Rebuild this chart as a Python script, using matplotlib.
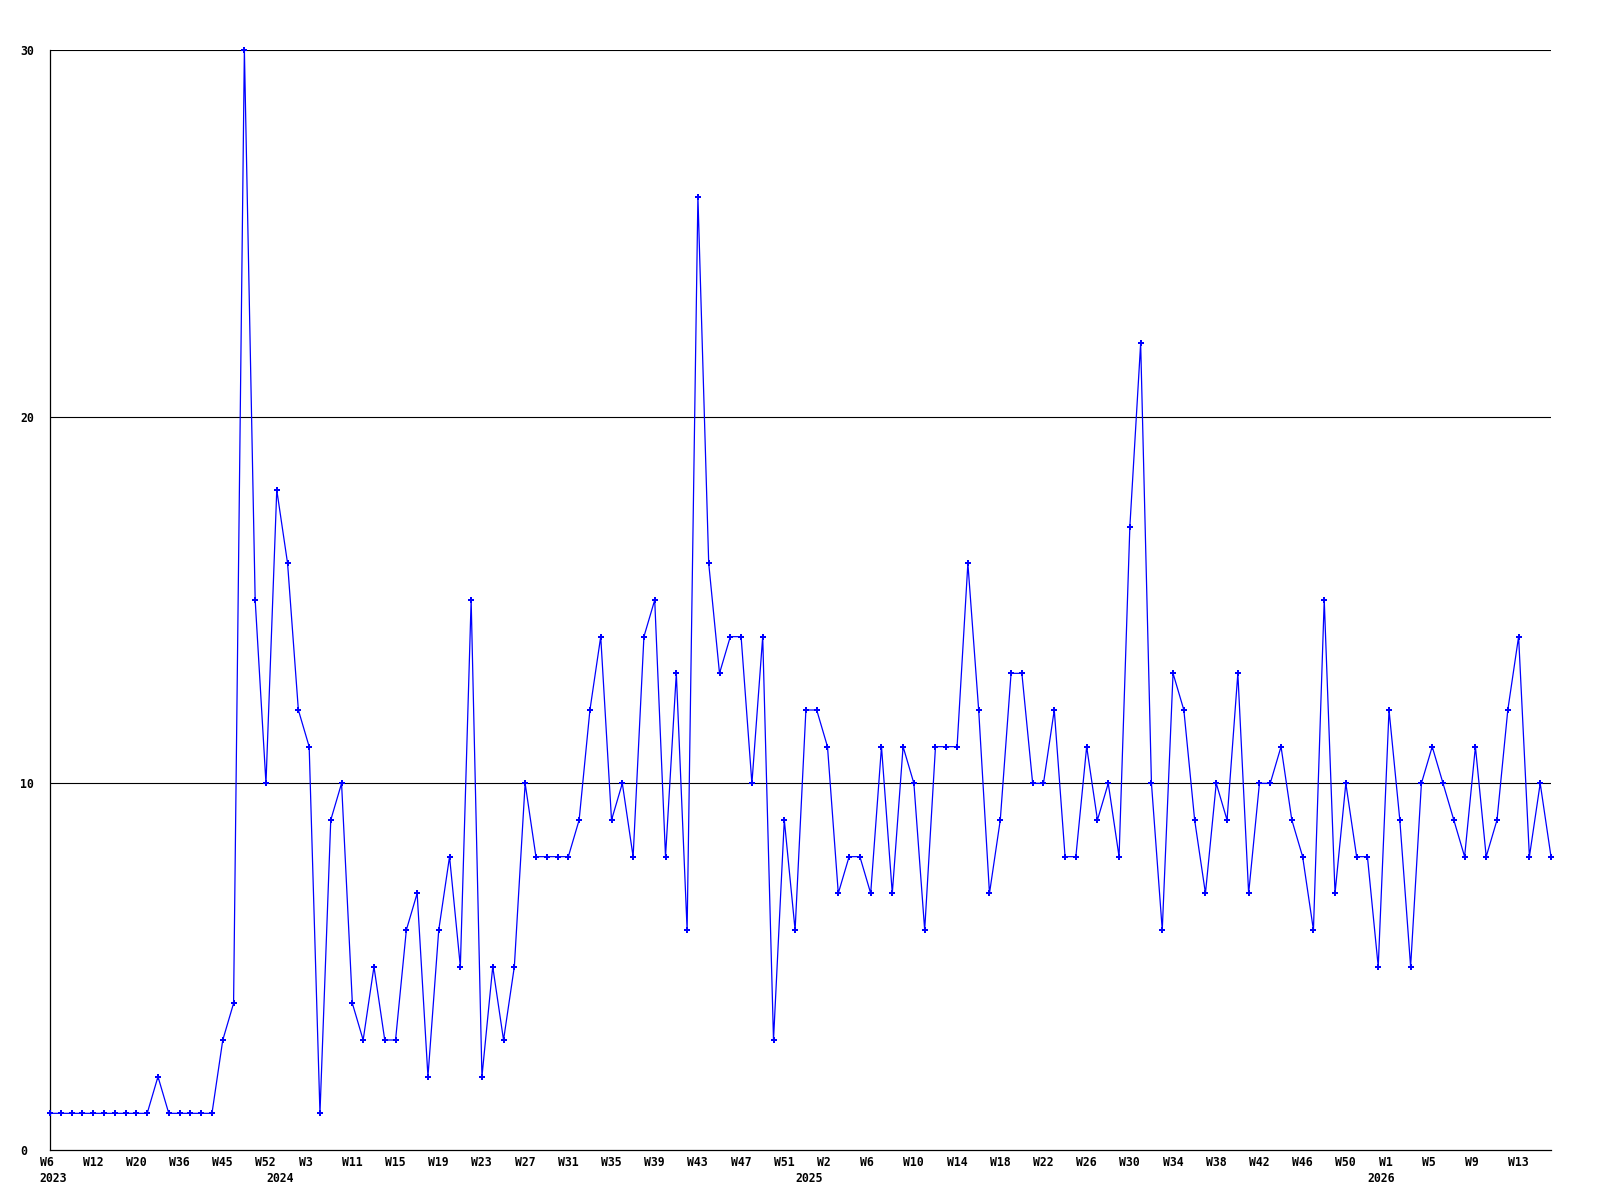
import matplotlib
matplotlib.use("Agg")
import matplotlib.pyplot as plt
from matplotlib.transforms import ScaledTranslation

# ---- data ----
values = [1, 1, 1, 1, 1, 1, 1, 1, 1, 1,
          2, 1, 1, 1, 1, 1, 3, 4, 30, 15,
          10, 18, 16, 12, 11, 1, 9, 10, 4, 3,
          5, 3, 3, 6, 7, 2, 6, 8, 5, 15,
          2, 5, 3, 5, 10, 8, 8, 8, 8, 9,
          12, 14, 9, 10, 8, 14, 15, 8, 13, 6,
          26, 16, 13, 14, 14, 10, 14, 3, 9, 6,
          12, 12, 11, 7, 8, 8, 7, 11, 7, 11,
          10, 6, 11, 11, 11, 16, 12, 7, 9, 13,
          13, 10, 10, 12, 8, 8, 11, 9, 10, 8,
          17, 22, 10, 6, 13, 12, 9, 7, 10, 9,
          13, 7, 10, 10, 11, 9, 8, 6, 15, 7,
          10, 8, 8, 5, 12, 9, 5, 10, 11, 10,
          9, 8, 11, 8, 9, 12, 14, 8, 10, 8]

week_labels = ["W6", "W12", "W20", "W36", "W45", "W52", "W3", "W11", "W15",
               "W19", "W23", "W27", "W31", "W35", "W39", "W43", "W47", "W51",
               "W2", "W6", "W10", "W14", "W18", "W22", "W26", "W30", "W34",
               "W38", "W42", "W46", "W50", "W1", "W5", "W9", "W13"]
label_every = 4

year_labels = ["2023", "2024", "2025", "2026"]
year_start_index = [0, 21, 70, 123]

y_ticks = [0, 10, 20, 30]

# ---- figure ----
fig = plt.figure(figsize=(16, 12), dpi=100)
ax = fig.add_axes([50 / 1600, 1 - 1150 / 1200, 1501 / 1600, 1100 / 1200])

x = list(range(len(values)))
ax.plot(x, values, color="#0000FF", linewidth=0.9, marker="P",
        markersize=4.4, markeredgewidth=0, clip_on=False, zorder=3)

ax.set_xlim(0, len(values) - 1)
ax.set_ylim(0, 30)

for v in y_ticks[1:]:
    ax.axhline(v, color="black", linewidth=0.8, zorder=1)

for side in ("top", "right"):
    ax.spines[side].set_visible(False)
for side in ("left", "bottom"):
    ax.spines[side].set_color("black")
    ax.spines[side].set_linewidth(0.9)

font = dict(family="DejaVu Sans Mono", weight="bold", size=8.3)

# y ticks
ax.set_yticks(y_ticks)
ax.set_yticklabels([str(v) for v in y_ticks], **font)
ax.tick_params(axis="y", length=0, pad=21.6)
for lab in ax.get_yticklabels():
    lab.set_horizontalalignment("left")

# x ticks: weeks (major) and years (minor)
ax.xaxis.remove_overlapping_locs = False
shift = ScaledTranslation(-10.5 / 100, 0, fig.dpi_scale_trans)
ax.set_xticks(list(range(0, len(week_labels) * label_every, label_every)))
ax.set_xticklabels(week_labels, **font)
ax.set_xticks(year_start_index, minor=True)
ax.set_xticklabels(year_labels, minor=True, **font)
ax.tick_params(axis="x", which="major", length=0, pad=4.5)
ax.tick_params(axis="x", which="minor", length=0, pad=15.5)
for lab in ax.get_xticklabels() + ax.get_xticklabels(minor=True):
    lab.set_horizontalalignment("left")
    lab.set_transform(lab.get_transform() + shift)

fig.savefig("out.png", dpi=100, facecolor="white")
